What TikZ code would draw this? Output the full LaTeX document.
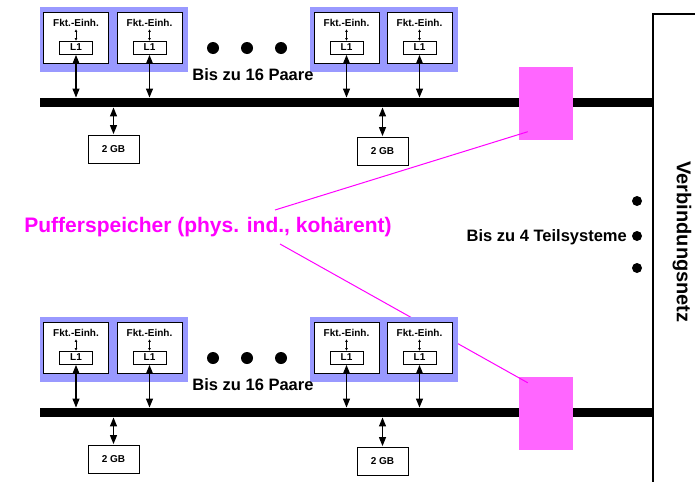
\documentclass[tikz,border=0pt]{standalone}
\usepackage{fontspec}
\setmainfont{Liberation Sans}
\usetikzlibrary{positioning,arrows.meta,calc,backgrounds}
\definecolor{grpblue}{RGB}{153,153,255}
\definecolor{pufmag}{RGB}{255,102,255}
\definecolor{linemag}{RGB}{255,0,255}
\tikzstyle{grpbg} = [fill=grpblue, rectangle, minimum width=148pt, minimum height=65pt, inner sep=0pt]
\tikzstyle{fubox} = [draw=black, line width=0.8pt, fill=white, rectangle, minimum width=65pt, minimum height=51pt, inner sep=0pt]
\tikzstyle{fktext} = [inner sep=0pt, font=\fontsize{10}{11}\selectfont\bfseries]
\tikzstyle{l1box} = [draw=black, line width=0.8pt, fill=white, rectangle, minimum width=33pt, minimum height=13pt, inner sep=0pt, font=\fontsize{10}{11}\selectfont\bfseries]
\tikzstyle{membox} = [draw=black, line width=0.8pt, fill=white, rectangle, minimum width=51pt, minimum height=28pt, inner sep=0pt, font=\fontsize{10}{11}\selectfont\bfseries]
\tikzstyle{bus} = [fill=black, rectangle, minimum width=613pt, minimum height=8.5pt, inner sep=0pt]
\tikzstyle{pufbox} = [fill=pufmag, rectangle, minimum width=54pt, minimum height=73pt, inner sep=0pt]
\tikzstyle{bidir} = [{Triangle[length=9pt,width=7pt]}-{Triangle[length=9pt,width=7pt]}, line width=1.1pt, shorten <=0.5pt, shorten >=0.5pt]
\tikzstyle{tinybidir} = [{Triangle[length=2.5pt,width=2.5pt]}-{Triangle[length=2.5pt,width=2.5pt]}, line width=0.6pt]
\tikzstyle{bigtext} = [inner sep=0pt, font=\fontsize{16.5}{18}\selectfont\bfseries]

\begin{document}
\begin{tikzpicture}[x=1pt,y=-1pt]
\useasboundingbox (0,0) rectangle (695,482);

% two subsystems, one above the other
\foreach \s/\dy in {a/0,b/310}{
\begin{scope}[yshift=-\dy pt]
  \begin{pgfonlayer}{background}
    \node[bus] (bus\s) at (346.5,102.5) {};
    \node[pufbox] (puf\s) at (546,103) {};
  \end{pgfonlayer}
  \node[grpbg] (grpl\s) at (114,39.5) {};
  \node[grpbg] (grpr\s) at (383.5,39.5) {};
  \foreach \i/\xc in {1/76,2/149.5,3/346.5,4/419.5}{
    \node[fubox] (fu\i\s) at (\xc,37.5) {};
    \node[fktext, anchor=base] (fk\i\s) at ($(fu\i\s.north)+(0,15)$) {Fkt.-Einh.};
    \node[l1box, above=9pt of fu\i\s.south] (lone\i\s) {L1};
    \draw[tinybidir] ($(fk\i\s.south)+(0,2.5)$) -- (lone\i\s.north);
    \draw[bidir] (lone\i\s.south) -- (lone\i\s.south |- bus\s.north);
  }
  \node[membox] (mem1\s) at (113.5,149) {2 GB};
  \node[membox] (mem2\s) at (382.5,151) {2 GB};
  \draw[bidir] (mem1\s.north |- bus\s.south) -- (mem1\s.north);
  \draw[bidir] (mem2\s.north |- bus\s.south) -- (mem2\s.north);
  \foreach \xd in {213,247,281} \fill (\xd,48) circle (6pt);
  \node[bigtext, anchor=base] (paare\s) at (253,80) {Bis zu 16 Paare};
\end{scope}
}

% Verbindungsnetz
\coordinate (netend) at (695,14);
\coordinate (nettop) at (653,14);
\coordinate (netbot) at (653,482);
\draw[line width=2pt] (netend) -- (nettop) -- (netbot);
\node[inner sep=0pt, rotate=-90, font=\fontsize{20}{22}\selectfont\bfseries] (netz) at (682,242) {Verbindungsnetz};

\foreach \yd in {201,236,268} \fill (637,\yd) circle (5pt);
\node[bigtext, anchor=base east] (teil) at (627,241) {Bis zu 4 Teilsysteme};

% Pufferspeicher
\node[inner sep=0pt, anchor=base, text=linemag, font=\fontsize{21}{24}\selectfont\bfseries] (pufl) at (208,232) {Pufferspeicher (phys. ind., kohärent)};
\coordinate (puflA) at (275,210);
\coordinate (puflB) at (280,244);
\begin{pgfonlayer}{background}
\draw[linemag, line width=1pt] (puflA) -- ($(pufa.south west)+(9,-8)$);
\draw[linemag, line width=1pt] (puflB) -- ($(pufb.north west)+(9,6.5)$);
\end{pgfonlayer}
\end{tikzpicture}
\end{document}
